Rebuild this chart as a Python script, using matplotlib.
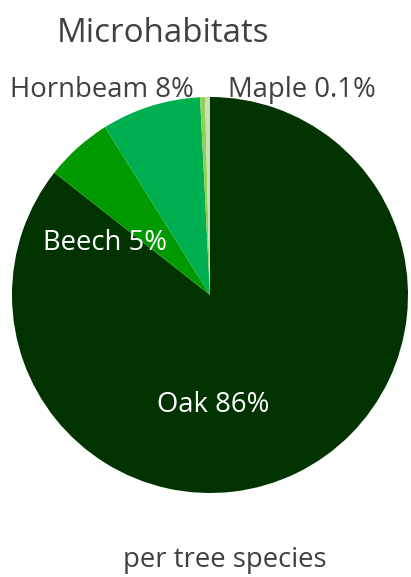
import matplotlib
matplotlib.use("Agg")
import matplotlib.pyplot as plt

labels = ["Oak 86%", "Beech 5%", "Hornbeam 8%", "", "Maple 0.1%"]
values = [85.6, 5.5, 8.1, 0.4, 0.4]
colors = ["#003300", "#009900", "#00B050", "#92D050", "#C5E0B4"]

W, H = 411, 577
fig = plt.figure(figsize=(W / 100, H / 100), dpi=100)
fig.patch.set_facecolor("white")

cx, cy, r = 210, 295, 198
ax = fig.add_axes([(cx - r) / W, (H - cy - r) / H, 2 * r / W, 2 * r / H])
ax.pie(values, colors=colors, startangle=90, counterclock=False, radius=1,
       wedgeprops=dict(linewidth=0))
ax.set_xlim(-1, 1)
ax.set_ylim(-1, 1)
ax.set_aspect("equal")
ax.axis("off")

font = ["Open Sans", "DejaVu Sans"]
gray = "#404040"

def ftext(x, y, s, **kw):
    fig.text(x / W, 1 - y / H, s, ha="center", va="center", family=font, **kw)

ftext(163, 34, "Microhabitats", fontsize=23.8, color=gray)
ftext(102, 90, labels[2], fontsize=19.8, color=gray)
ftext(302, 90, labels[4], fontsize=19.8, color=gray)
ftext(105, 243, labels[1], fontsize=19.8, color="white")
ftext(213, 405, labels[0], fontsize=19.8, color="white")
ftext(225, 560, "per tree species", fontsize=19.8, color=gray)

fig.savefig("out.png", dpi=100)
